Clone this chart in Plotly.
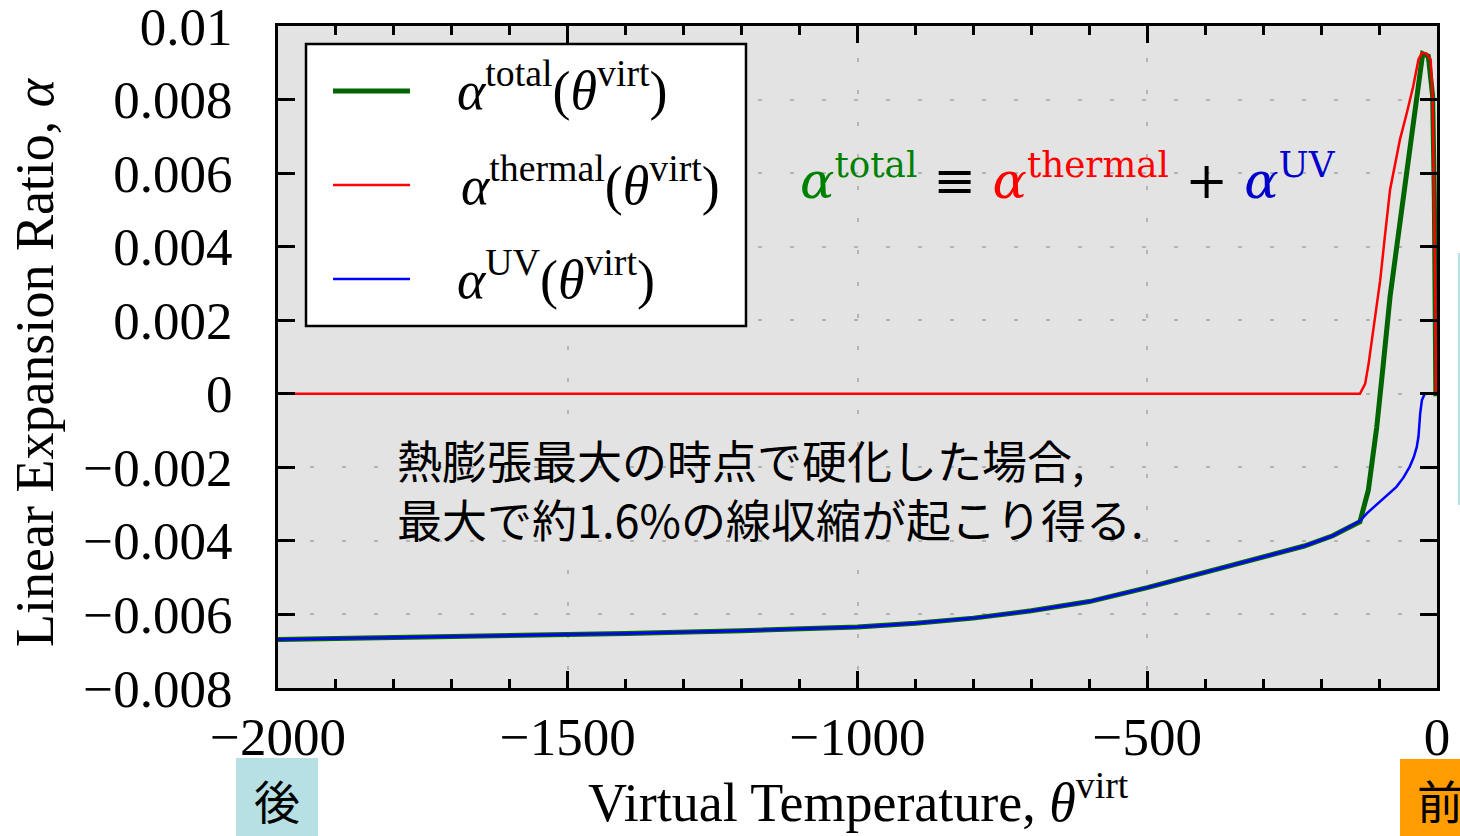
import plotly.graph_objects as go

# ---------------- data ----------------
theta_uv = [-2000, -1800, -1600, -1500, -1400, -1200, -1000, -900, -800, -700,
            -600, -500, -400, -300, -229, -180, -133, -121, -110, -98, -85, -70,
            -58, -47, -40, -35, -32, -29, -26, -23, -21, -10, 0]
alpha_uv = [-0.00668, -0.00663, -0.00658, -0.00655, -0.00652, -0.00644, -0.00634,
            -0.00624, -0.00610, -0.00590, -0.00565, -0.00527, -0.00486, -0.00443,
            -0.00414, -0.00386, -0.00346, -0.00325, -0.00310, -0.00293, -0.00275,
            -0.00253, -0.00228, -0.00198, -0.00172, -0.00145, -0.00117, -0.00053,
            -0.00017, -0.00003, 0.0, 0.0, 0.0]

theta_thermal = [-2000, -1000, -500, -200, -140, -133, -124, -118, -110, -98, -90,
                 -81, -72, -64, -52, -41, -32, -26, -18, -11, -7.5, -4.6, -2.9, -1.7, 0]
alpha_thermal = [0.0, 0.0, 0.0, 0.0, 0.0, 0.0, 0.00027, 0.00082, 0.00173, 0.00309,
                 0.00427, 0.00555, 0.00627, 0.00691, 0.00764, 0.00836, 0.00909,
                 0.00927, 0.00925, 0.00909, 0.00809, 0.00536, 0.00264, 0.0, 0.0]

theta_total = [-2000, -1800, -1600, -1500, -1400, -1200, -1000, -900, -800, -700,
               -600, -500, -400, -300, -229, -180, -133, -118.5, -104, -92.6, -81,
               -64, -52, -41, -32, -24.7, -15, -7.5, -4.6, -3.5, -2, 0]
alpha_total = [-0.00668, -0.00663, -0.00658, -0.00655, -0.00652, -0.00644, -0.00634,
               -0.00624, -0.00610, -0.00590, -0.00565, -0.00527, -0.00486, -0.00443,
               -0.00414, -0.00386, -0.00348, -0.00262, -0.00091, 0.00082, 0.00264,
               0.00464, 0.00609, 0.00736, 0.00845, 0.00925, 0.00918, 0.00809,
               0.00536, 0.0026, 0.0, 0.0]

x_tickvals = [-2000, -1500, -1000, -500, 0]
x_ticktext = ["\u22122000", "\u22121500", "\u22121000", "\u2212500", "0"]
y_tickvals = [-0.008, -0.006, -0.004, -0.002, 0, 0.002, 0.004, 0.006, 0.008, 0.01]
y_ticktext = ["\u22120.008", "\u22120.006", "\u22120.004", "\u22120.002", "0",
              "0.002", "0.004", "0.006", "0.008", "0.01"]

legend_labels = [
    "<i>α</i><sup>total</sup>(<i>θ</i><sup>virt</sup>)",
    "<i>α</i><sup>thermal</sup>(<i>θ</i><sup>virt</sup>)",
    "<i>α</i><sup>UV</sup>(<i>θ</i><sup>virt</sup>)",
]
note_lines = ["熱膨張最大の時点で硬化した場合,", "最大で約1.6%の線収縮が起こり得る."]

# ---------------- layout geometry ----------------
W, H = 1460, 836
L, R, T, B = 278, 1437, 26, 688
PW, PH = R - L, B - T


def xp(px):
    return (px - L) / PW


def yp(py):
    return (B - py) / PH


SERIF = "Liberation Serif"
GREEN_LINE = "#006400"

fig = go.Figure()
fig.add_trace(go.Scatter(x=theta_total, y=alpha_total, mode="lines",
                         line=dict(color=GREEN_LINE, width=5), showlegend=False))
fig.add_trace(go.Scatter(x=theta_thermal, y=alpha_thermal, mode="lines",
                         line=dict(color="#ff0000", width=2.5), showlegend=False))
fig.add_trace(go.Scatter(x=theta_uv, y=alpha_uv, mode="lines",
                         line=dict(color="#0000ff", width=2.5), showlegend=False))

axis_common = dict(showline=True, linecolor="black", linewidth=3, mirror="ticks",
                   ticks="inside", ticklen=17, tickwidth=2.5, tickcolor="black",
                   showgrid=True, gridcolor="#b4b4b4", gridwidth=2,
                   griddash="4px,28px", zeroline=False, ticklabeloverflow="allow",
                   automargin=False,
                   tickfont=dict(family=SERIF, size=53, color="black"))

fig.update_xaxes(range=[-2000, 0], tickvals=x_tickvals, ticktext=x_ticktext,
                 ticklabelstandoff=0,
                 minor=dict(dtick=100, ticks="inside", ticklen=9, tickwidth=2.5,
                            tickcolor="black", showgrid=False),
                 **axis_common)
fig.update_yaxes(range=[-0.008, 0.0100001], tickvals=y_tickvals, ticktext=y_ticktext,
                 ticklabelstandoff=32, **axis_common)

shapes = []
annotations = []

# legend box
shapes.append(dict(type="rect", xref="paper", yref="paper",
                   x0=xp(306), x1=xp(746), y0=yp(326), y1=yp(44),
                   fillcolor="white", line=dict(color="black", width=2.5),
                   layer="above"))
leg_colors = [GREEN_LINE, "#ff0000", "#0000ff"]
leg_widths = [5, 2.5, 2.5]
leg_y = [91, 185, 279]
leg_tx = [455, 459, 455]
for lab, c, w, y, tx in zip(legend_labels, leg_colors, leg_widths, leg_y, leg_tx):
    shapes.append(dict(type="line", xref="paper", yref="paper",
                       x0=xp(333), x1=xp(410), y0=yp(y), y1=yp(y),
                       line=dict(color=c, width=w), layer="above"))
    annotations.append(dict(xref="paper", yref="paper", x=xp(tx), y=yp(y - 4),
                            xanchor="left", yanchor="middle", showarrow=False,
                            text=lab, font=dict(family=SERIF, size=54, color="black")))

# equation
eq = ('<span style="color:#008000"><i>α</i><sup>total</sup></span> ≡ '
      '<span style="color:#ff0000"><i>α</i><sup>thermal</sup></span> + '
      '<span style="color:#0000cc"><i>α</i><sup>UV</sup></span>')
annotations.append(dict(xref="paper", yref="paper", x=xp(798), y=yp(177),
                        xanchor="left", yanchor="middle", showarrow=False, text=eq,
                        font=dict(family="DejaVu Serif", size=51, color="black")))

# Japanese note
annotations.append(dict(xref="paper", yref="paper", x=xp(395), y=yp(489),
                        xanchor="left", yanchor="middle", align="left",
                        showarrow=False, text="<br>".join(note_lines),
                        font=dict(family="Noto Sans CJK JP", size=45, color="black")))

# axis titles
annotations.append(dict(xref="paper", yref="paper", x=xp(35), y=yp(362),
                        xanchor="center", yanchor="middle", showarrow=False,
                        textangle=-90, text="Linear Expansion Ratio, <i>α</i>",
                        font=dict(family=SERIF, size=54, color="black")))
annotations.append(dict(xref="paper", yref="paper", x=xp(858), y=yp(798),
                        xanchor="center", yanchor="middle", showarrow=False,
                        text="Virtual Temperature, <i>θ</i><sup>virt</sup>",
                        font=dict(family=SERIF, size=54, color="black")))

# bottom marker boxes
shapes.append(dict(type="rect", xref="paper", yref="paper",
                   x0=xp(236), x1=xp(318), y0=yp(840), y1=yp(758),
                   fillcolor="#b7e0e4", line=dict(width=0), layer="above"))
annotations.append(dict(xref="paper", yref="paper", x=xp(277), y=yp(799),
                        xanchor="center", yanchor="middle", showarrow=False,
                        text="後", font=dict(family="Noto Sans CJK JP", size=46, color="black")))
shapes.append(dict(type="rect", xref="paper", yref="paper",
                   x0=xp(1400), x1=xp(1480), y0=yp(840), y1=yp(759),
                   fillcolor="#ff9c00", line=dict(width=0), layer="above"))
annotations.append(dict(xref="paper", yref="paper", x=xp(1440), y=yp(799),
                        xanchor="center", yanchor="middle", showarrow=False,
                        text="前", font=dict(family="Noto Sans CJK JP", size=46, color="black")))
# thin strip at right edge
shapes.append(dict(type="rect", xref="paper", yref="paper",
                   x0=xp(1458), x1=xp(1464), y0=yp(505), y1=yp(253),
                   fillcolor="#b7e0e4", line=dict(width=0), layer="above"))

fig.update_layout(width=W, height=H, autosize=False,
                  margin=dict(l=L, r=W - R, t=T, b=H - B, pad=0, autoexpand=False),
                  paper_bgcolor="white", plot_bgcolor="#e3e3e3",
                  showlegend=False, shapes=shapes, annotations=annotations)

fig.write_html("out.html")
